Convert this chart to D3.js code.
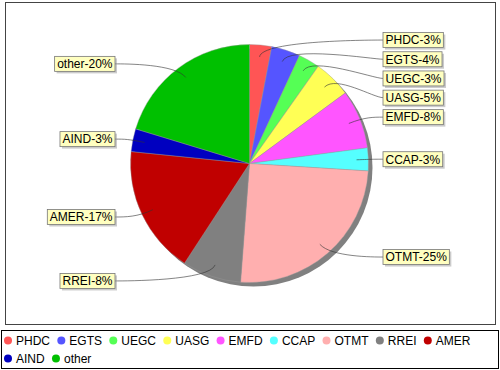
<!DOCTYPE html>
<html>
<head>
<meta charset="utf-8">
<script src="https://cdn.jsdelivr.net/npm/d3@7"></script>
<style>
  body { margin: 0; background: #fff; }
  svg { display: block; font-family: "Liberation Sans", Arial, sans-serif; }
</style>
</head>
<body>
<svg width="500" height="370"></svg>
<script>
// slice names and shares (in drawing order, clockwise from 12 o'clock)
const categories = ["PHDC", "EGTS", "UEGC", "UASG", "EMFD", "CCAP", "OTMT", "RREI", "AMER", "AIND", "other"];
const values = [3.0, 3.9, 2.9, 5.1, 8.0, 3.1, 25.2, 8.0, 17.4, 3.1, 20.3];
const colors = ["#ff5555", "#5555ff", "#55ff55", "#ffff55", "#ff55ff", "#55ffff",
                "#ffafaf", "#808080", "#c00000", "#0000c0", "#00c000"];

var svg = d3.select("svg");
const width = +svg.attr("width");
const height = +svg.attr("height");

const cx = 249.5, cy = 163.5, R = 119;
const linkR = 124;          // radius where the label links bend
const total = d3.sum(values);

// plot border
svg.append("rect")
	.attr("x", 5.5).attr("y", 2.5)
	.attr("width", 490).attr("height", 322)
	.attr("fill", "#fff")
	.attr("stroke", "#444")
	.attr("stroke-width", 1);

const data = categories.map((c, i) => ({ name: c, value: values[i], color: colors[i] }));

const pie = d3.pie().sort(null).value(d => d.value);
const arcs = pie(data);
const arc = d3.arc().innerRadius(0).outerRadius(R);

const g = svg.append("g").attr("transform", `translate(${cx},${cy})`);

// shadow
g.append("circle")
	.attr("cx", 4).attr("cy", 4).attr("r", R)
	.attr("fill", "#808080");

g.selectAll("path.slice")
	.data(arcs)
	.join("path")
	.attr("class", "slice")
	.attr("d", arc)
	.attr("fill", d => d.data.color)
	.attr("stroke", "#999")
	.attr("stroke-width", 0.4);

// label layout
const labels = arcs.map(a => {
	const mid = (a.startAngle + a.endAngle) / 2;
	const pct = Math.round(a.data.value / total * 100);
	return {
		text: a.data.name + "-" + pct + "%",
		mid: mid,
		right: Math.sin(mid) >= 0,
		y: cy - Math.cos(mid) * linkR
	};
});

function distribute(list, gap) {
	list.sort((a, b) => a.y - b.y);
	for (let i = 1; i < list.length; i++) {
		if (list[i].y < list[i - 1].y + gap) list[i].y = list[i - 1].y + gap;
	}
}
distribute(labels.filter(d => d.right), 19.2);
distribute(labels.filter(d => !d.right), 19.2);

const rightAnchor = cx + linkR, leftAnchor = cx - linkR;
const rightX = 383, leftX = 115;

const lg = svg.append("g");

labels.forEach(d => {
	const lx = cx + Math.sin(d.mid) * R * 0.9;
	const ly = cy - Math.cos(d.mid) * R * 0.9;
	const ex = cx + Math.sin(d.mid) * linkR;
	const ey = cy - Math.cos(d.mid) * linkR;
	const tx = d.right ? rightX : leftX;
	const ax = d.right ? rightAnchor : leftAnchor;
	const p = d3.path();
	p.moveTo(tx, d.y);
	p.bezierCurveTo(ax, d.y, ex, ey, lx, ly);
	lg.append("path")
		.attr("d", p.toString())
		.attr("fill", "none")
		.attr("stroke", "#333")
		.attr("stroke-width", 0.6);
});

labels.forEach(d => {
	const t = lg.append("text")
		.attr("font-size", 12)
		.attr("fill", "#000")
		.text(d.text);
	const w = t.node().getComputedTextLength();
	const bw = w + 5, bh = 15;
	const bx = d.right ? rightX : leftX - bw;
	const by = d.y - bh / 2;
	lg.insert("rect", () => t.node())
		.attr("x", bx + 2).attr("y", by + 2)
		.attr("width", bw).attr("height", bh)
		.attr("fill", "#979797").attr("fill-opacity", 0.5);
	lg.insert("rect", () => t.node())
		.attr("x", bx).attr("y", by)
		.attr("width", bw).attr("height", bh)
		.attr("fill", "#ffffc0")
		.attr("stroke", "#777")
		.attr("stroke-width", 0.8);
	t.attr("x", bx + 2.5).attr("y", d.y + 4.3);
});

// legend
svg.append("rect")
	.attr("x", 1.5).attr("y", 330.5)
	.attr("width", 497).attr("height", 38)
	.attr("fill", "#fff")
	.attr("stroke", "#000")
	.attr("stroke-width", 1);

const legend = svg.append("g");
let x = 4, row = 0;
const rowY = [340.5, 358.5];
data.forEach(d => {
	const item = legend.append("g");
	const t = item.append("text")
		.attr("font-size", 12)
		.attr("fill", "#000")
		.text(d.name);
	const w = t.node().getComputedTextLength();
	if (x + 12 + w > 494) { row++; x = 4; }
	item.append("circle")
		.attr("cx", x + 4).attr("cy", rowY[row])
		.attr("r", 4)
		.attr("fill", d.color);
	t.attr("x", x + 12).attr("y", rowY[row] + 4.3);
	x = x + 12 + w + 7.3;
});
</script>
</body>
</html>
